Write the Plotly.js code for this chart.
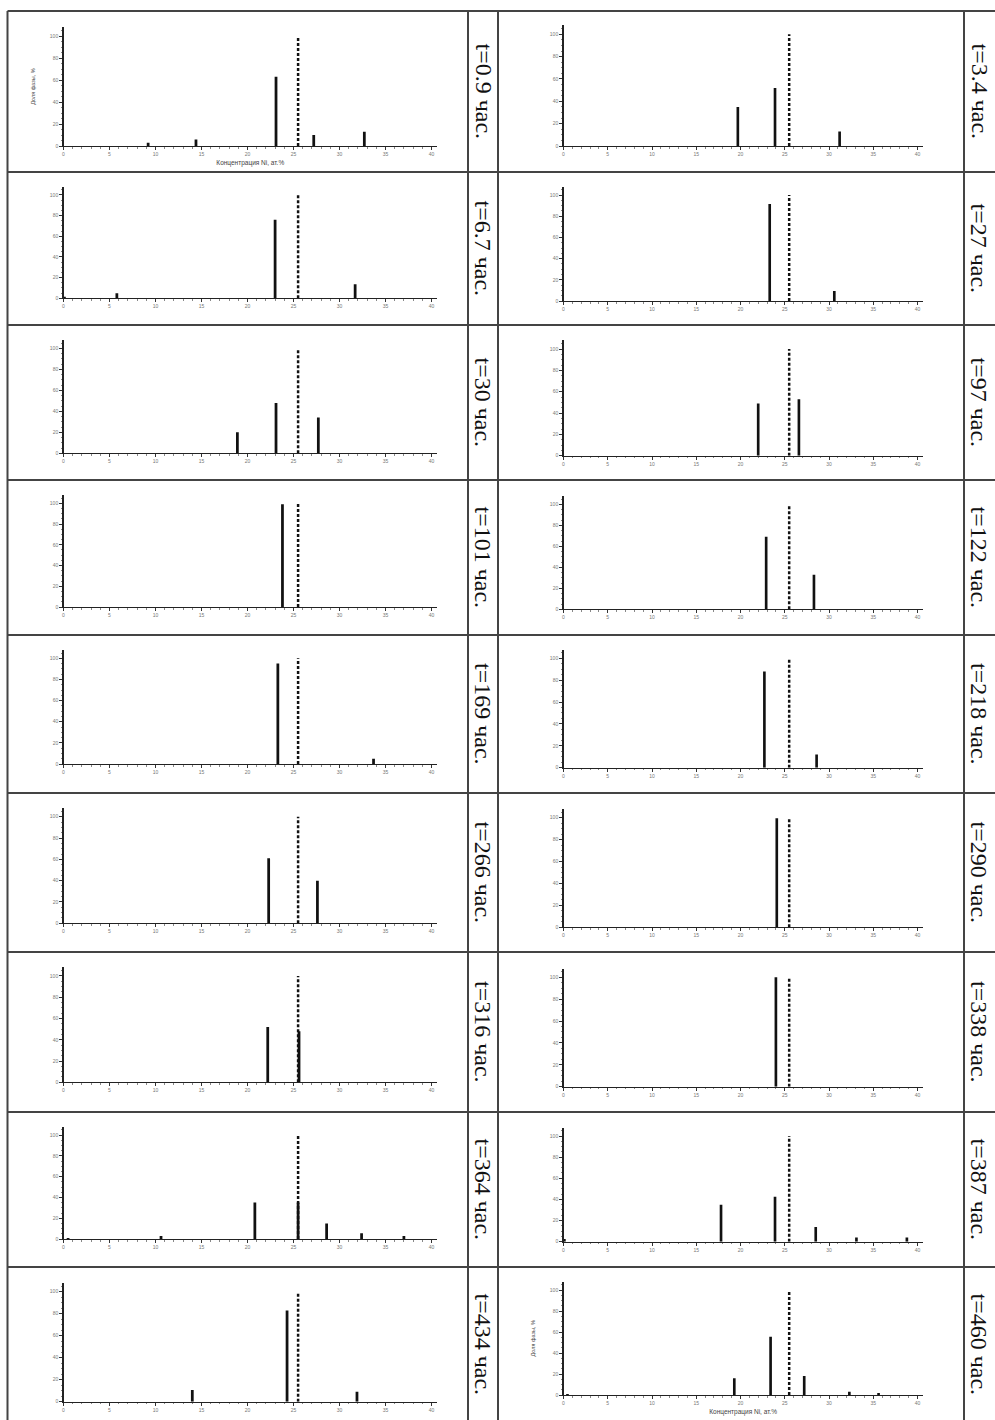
<!DOCTYPE html>
<html>
<head>
<meta charset="utf-8">
<script src="https://cdn.plot.ly/plotly-3.0.1.min.js"></script>
<style>
  html, body { margin: 0; padding: 0; background: #ffffff; }
  #chart { width: 995px; height: 1420px; }
</style>
</head>
<body>
<div id="chart"></div>
<script>
// ---------------- DATA ----------------
const timeLabels = ['0.9', '3.4', '6.7', '27', '30', '97', '101', '122', '169',
                    '218', '266', '290', '316', '338', '364', '387', '434', '460'];

const ni_t0_9 = [9.2, 14.4, 23.1, 27.2, 32.7];
const share_t0_9 = [3, 6, 63, 10, 13];
const ni_t3_4 = [19.7, 23.9, 31.2];
const share_t3_4 = [35, 52, 13];
const ni_t6_7 = [0.1, 5.8, 23.0, 31.7];
const share_t6_7 = [1.5, 5, 76, 13.5];
const ni_t27 = [23.3, 30.6];
const share_t27 = [91.5, 9.4];
const ni_t30 = [18.9, 23.1, 27.7];
const share_t30 = [20, 48, 34];
const ni_t97 = [22.0, 26.6];
const share_t97 = [49, 53];
const ni_t101 = [23.8];
const share_t101 = [99];
const ni_t122 = [22.9, 28.3];
const share_t122 = [69, 33];
const ni_t169 = [23.3, 33.7];
const share_t169 = [95, 5];
const ni_t218 = [22.7, 28.6];
const share_t218 = [88, 12];
const ni_t266 = [22.3, 27.6];
const share_t266 = [61, 40];
const ni_t290 = [24.1];
const share_t290 = [99.5];
const ni_t316 = [22.2, 25.6];
const share_t316 = [52, 48];
const ni_t338 = [24.0];
const share_t338 = [100];
const ni_t364 = [0.5, 10.6, 20.8, 25.5, 28.6, 32.4, 37.0];
const share_t364 = [1, 3, 35, 35, 15, 5.5, 3];
const ni_t387 = [0.1, 17.8, 23.9, 28.5, 33.1, 38.8];
const share_t387 = [2.5, 35, 42.5, 14, 4, 4];
const ni_t434 = [14.0, 24.3, 31.9];
const share_t434 = [10.6, 83, 9];
const ni_t460 = [0.45, 19.3, 23.4, 27.2, 32.3, 35.6];
const share_t460 = [1, 16, 55.5, 18, 3, 2];

const dashedNi = [25.5, 25.5];
const dashedShare = [0, 100];

const xTickVals = [0, 5, 10, 15, 20, 25, 30, 35, 40];
const yTickVals = [0, 20, 40, 60, 80, 100];

const xTitle = 'Концентрация Ni, ат.%';
const yTitle = 'Доля фазы, %';

// ---------------- LAYOUT GEOMETRY (pixels) ----------------
const W = 995, H = 1420;
const colX = [[63.5, 431.5], [563.5, 917.5]];           // x of 0 and 40
const panelY = [                                        // y of 0 and 100
  [146, 36], [146, 34.3], [298.3, 195], [301, 195], [453.3, 348.3], [455.7, 349],
  [607, 503.3], [609.3, 504.3], [764, 658.3], [767.7, 658.3], [923.3, 816.7], [927.3, 817.7],
  [1082.3, 976], [1086.7, 977.3], [1239, 1135], [1241.7, 1136], [1401.7, 1291.7], [1395, 1290]
];
const rowLines = [11, 172, 325, 480, 635, 793, 952, 1112, 1267, 1422];
const colLines = [7.5, 468, 498, 964];
const labelX = [483, 979];

const series = [
  [ni_t0_9, share_t0_9], [ni_t3_4, share_t3_4], [ni_t6_7, share_t6_7], [ni_t27, share_t27],
  [ni_t30, share_t30], [ni_t97, share_t97], [ni_t101, share_t101], [ni_t122, share_t122],
  [ni_t169, share_t169], [ni_t218, share_t218], [ni_t266, share_t266], [ni_t290, share_t290],
  [ni_t316, share_t316], [ni_t338, share_t338], [ni_t364, share_t364], [ni_t387, share_t387],
  [ni_t434, share_t434], [ni_t460, share_t460]
];

const XMAX = 40.6, YMAX = 108;
const traces = [];
const layout = {
  width: W, height: H,
  margin: {l: 0, r: 0, t: 0, b: 0},
  paper_bgcolor: '#ffffff', plot_bgcolor: 'rgba(0,0,0,0)',
  showlegend: false, barmode: 'overlay',
  font: {family: 'Liberation Sans, Arial, sans-serif', color: '#333'},
  shapes: [], annotations: []
};

series.forEach((s, i) => {
  const n = i + 1;
  const suf = n === 1 ? '' : String(n);
  const col = i % 2, row = Math.floor(i / 2);
  const [x0, x40] = colX[col];
  const xr = x0 + (x40 - x0) * XMAX / 40;
  const [y0, y100] = panelY[i];
  const ytop = y0 - (y0 - y100) * YMAX / 100;

  traces.push({
    type: 'bar', x: s[0], y: s[1], width: 0.3,
    marker: {color: '#111', line: {width: 0}},
    xaxis: 'x' + suf, yaxis: 'y' + suf, hoverinfo: 'skip'
  });
  traces.push({
    type: 'scatter', mode: 'lines', x: dashedNi, y: dashedShare,
    line: {color: '#111', width: 2.5, dash: '3px,2px'},
    xaxis: 'x' + suf, yaxis: 'y' + suf, hoverinfo: 'skip'
  });

  const showTitles = (i === 0 || i === 17);
  layout['xaxis' + suf] = {
    domain: [x0 / W, xr / W], range: [0, XMAX], anchor: 'y' + suf,
    tickmode: 'array', tickvals: xTickVals, ticktext: xTickVals.map(String),
    ticks: 'outside', ticklen: 3, tickwidth: 1, tickcolor: '#333',
    tickfont: {size: 5, color: '#777'},
    minor: {dtick: 1, ticks: 'outside', ticklen: 1.5, tickcolor: '#888'},
    showline: true, linecolor: '#222', linewidth: 1,
    showgrid: false, zeroline: false, fixedrange: true,
    title: showTitles ? {text: xTitle, font: {size: 6.5, color: '#444'}, standoff: 4} : {text: ''}
  };
  layout['yaxis' + suf] = {
    domain: [1 - y0 / H, 1 - ytop / H], range: [0, YMAX], anchor: 'x' + suf,
    tickmode: 'array', tickvals: yTickVals, ticktext: yTickVals.map(String),
    ticks: 'outside', ticklen: 3, tickwidth: 1, tickcolor: '#333',
    tickfont: {size: 5, color: '#777'},
    minor: {dtick: 5, ticks: 'outside', ticklen: 1.5, tickcolor: '#888'},
    showline: true, linecolor: '#222', linewidth: 1.3,
    showgrid: false, zeroline: false, fixedrange: true,
    title: showTitles ? {text: yTitle, font: {size: 5.5, color: '#444'}, standoff: 14} : {text: ''}
  };

  layout.annotations.push({
    xref: 'paper', yref: 'paper', showarrow: false,
    x: labelX[col] / W, y: 1 - ((rowLines[row] + rowLines[row + 1]) / 2) / H,
    xanchor: 'center', yanchor: 'middle', textangle: 90,
    text: 't=' + timeLabels[i] + ' час.',
    font: {family: 'Liberation Serif, Times New Roman, serif', size: 24, color: '#111'}
  });
});

// grid borders
rowLines.slice(0, 9).forEach(py => {
  layout.shapes.push({type: 'line', xref: 'paper', yref: 'paper',
    x0: 7.5 / W, x1: 1, y0: 1 - py / H, y1: 1 - py / H,
    line: {color: '#444', width: 2}});
});
colLines.forEach(px => {
  layout.shapes.push({type: 'line', xref: 'paper', yref: 'paper',
    x0: px / W, x1: px / W, y0: 0, y1: 1 - rowLines[0] / H,
    line: {color: '#444', width: 2}});
});

Plotly.newPlot('chart', traces, layout, {displayModeBar: false, staticPlot: true});
</script>
</body>
</html>
